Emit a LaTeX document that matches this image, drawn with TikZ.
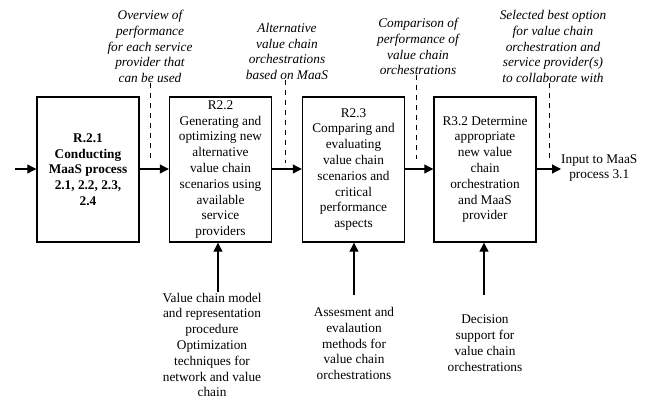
\documentclass[tikz,border=0pt]{standalone}
\usepackage{fontspec}
\setmainfont{Liberation Serif}
\usetikzlibrary{arrows.meta}
\begin{document}
\begin{tikzpicture}[x=1pt,y=-1pt,
  every node/.style={font=\fontsize{13.3}{15.8}\selectfont, inner sep=0pt, align=center},
  procbox/.style={draw, line width=1.4pt, minimum width=102pt, minimum height=145pt},
  note/.style={font=\fontsize{13.3}{15.8}\selectfont\itshape},
  flow/.style={line width=1.2pt, -{Triangle[length=9pt,width=9pt]}},
  ctrl/.style={line width=0.8pt, dash pattern=on 5pt off 5pt}]
\useasboundingbox (0,0) rectangle (649,401);

% process boxes
\node[procbox] (p1) at (88,169.5) {\bfseries R.2.1\\\bfseries Conducting\\\bfseries MaaS process\\\bfseries 2.1, 2.2, 2.3,\\\bfseries 2.4};
\node[procbox] (p2) at (220.5,169.5) {R2.2\\Generating and\\optimizing new\\alternative\\value chain\\scenarios using\\available\\service\\providers};
\node[procbox] (p3) at (353.5,169.5) {R2.3\\Comparing and\\evaluating\\value chain\\scenarios and\\critical\\performance\\aspects};
\node[procbox] (p4) at (485,169.5) {R3.2 Determine\\appropriate\\new value\\chain\\orchestration\\and MaaS\\provider};

% input and output
\coordinate (in) at (15,169);
\node[anchor=west] (out) at (561,168) {Input to MaaS\\process 3.1};

\draw[flow] (in) -- (p1.west |- in);
\draw[flow] (p1.east |- in) -- (p2.west |- in);
\draw[flow] (p2.east |- in) -- (p3.west |- in);
\draw[flow] (p3.east |- in) -- (p4.west |- in);
\draw[flow] (p4.east |- in) -- (out.west |- in);

% intermediate results (italic, dashed)
\node[note] (n1) at (150,46.5) {Overview of\\performance\\for each service\\provider that\\can be used};
\node[note] (n2) at (287,51.5) {Alternative\\value chain\\orchestrations\\based on MaaS};
\node[note] (n3) at (418,46.5) {Comparison of\\performance of\\value chain\\orchestrations};
\node[note] (n4) at (553,46.5) {Selected best option\\for value chain\\orchestration and\\service provider(s)\\to collaborate with};

\coordinate (d1) at (150,163);
\coordinate (d2) at (285,163);
\coordinate (d3) at (416,159);
\coordinate (d4) at (549,160);
\draw[ctrl] (d1 |- n1.south) -- (d1);
\draw[ctrl] (d2 |- n2.south) -- (d2);
\draw[ctrl] (d3 |- n3.south) -- (d3);
\draw[ctrl] (d4 |- n4.south) -- (d4);

% supporting mechanisms below
\node (m2) at (212,345) {Value chain model\\and representation\\procedure\\Optimization\\techniques for\\network and value\\chain};
\node (m3) at (354,343.5) {Assesment and\\evalaution\\methods for\\value chain\\orchestrations};
\node (m4) at (485,343) {Decision\\support for\\value chain\\orchestrations};

\coordinate (s2) at (218,292);
\coordinate (s3) at (354,295);
\coordinate (s4) at (484,295);
\draw[flow] (s2) -- (s2 |- p2.south);
\draw[flow] (s3) -- (s3 |- p3.south);
\draw[flow] (s4) -- (s4 |- p4.south);
\end{tikzpicture}
\end{document}
